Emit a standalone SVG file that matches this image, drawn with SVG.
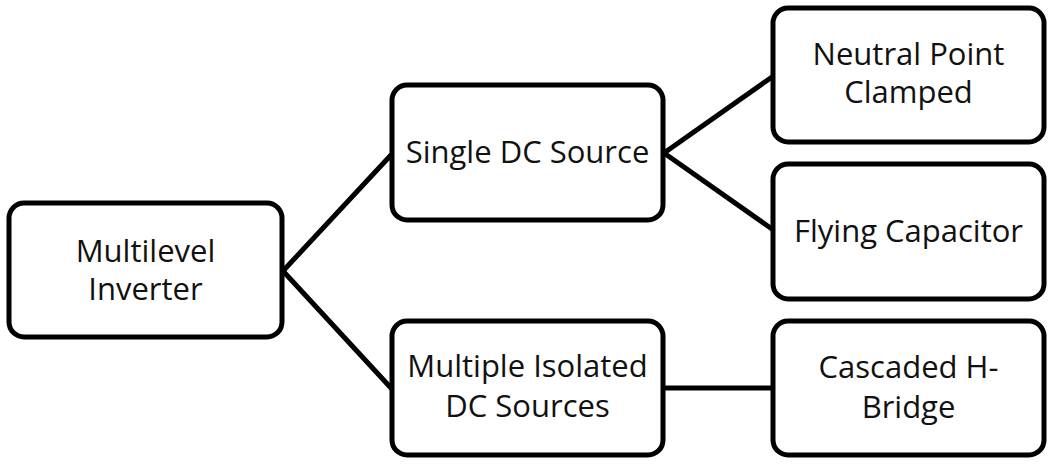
<svg xmlns="http://www.w3.org/2000/svg" width="1056" height="472" viewBox="0 0 1056 472">
<style>
.box{fill:#fff;stroke:#000;stroke-width:5}
.lbl{font-family:"Open Sans","Liberation Sans",sans-serif;font-size:31px;fill:#111;text-anchor:middle}
.conn{stroke:#000;stroke-width:5;fill:none;stroke-linecap:round}
</style>
<rect width="1056" height="472" fill="#fff"/>
<g id="connectors">
<line class="conn" x1="283" y1="271" x2="391" y2="155"/>
<line class="conn" x1="283" y1="271" x2="391" y2="388"/>
<line class="conn" x1="664" y1="153" x2="772" y2="77"/>
<line class="conn" x1="664" y1="153" x2="772" y2="229"/>
<line class="conn" x1="664" y1="388" x2="772" y2="388"/>
</g>
<g id="multilevel-inverter">
<rect class="box" x="9" y="203" width="273" height="134" rx="15"/>
<text class="lbl" x="145.5" y="262">Multilevel</text>
<text class="lbl" x="145.5" y="300">Inverter</text>
</g>
<g id="single-dc-source">
<rect class="box" x="392" y="85" width="271" height="135" rx="15"/>
<text class="lbl" x="527.5" y="163">Single DC Source</text>
</g>
<g id="multiple-isolated">
<rect class="box" x="392" y="321" width="271" height="134" rx="15"/>
<text class="lbl" x="527.5" y="377">Multiple Isolated</text>
<text class="lbl" x="527.5" y="417">DC Sources</text>
</g>
<g id="neutral-point-clamped">
<rect class="box" x="773" y="8" width="271" height="134" rx="15"/>
<text class="lbl" x="908.5" y="65">Neutral Point</text>
<text class="lbl" x="908.5" y="103">Clamped</text>
</g>
<g id="flying-capacitor">
<rect class="box" x="773" y="164" width="271" height="135" rx="15"/>
<text class="lbl" x="908.5" y="242">Flying Capacitor</text>
</g>
<g id="cascaded-h-bridge">
<rect class="box" x="773" y="321" width="271" height="134" rx="15"/>
<text class="lbl" x="908.5" y="378">Cascaded H-</text>
<text class="lbl" x="908.5" y="418">Bridge</text>
</g>
</svg>
